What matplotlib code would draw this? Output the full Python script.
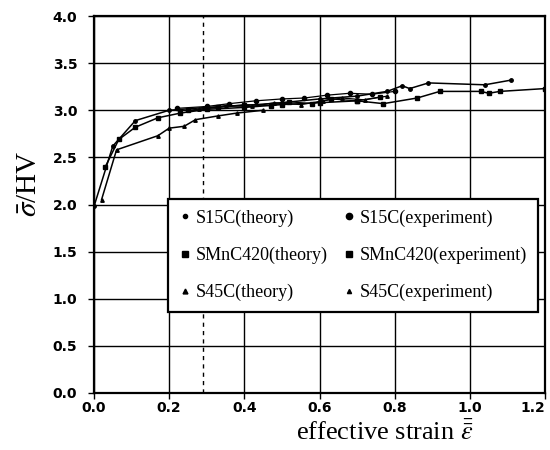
import matplotlib
matplotlib.use('Agg')
import matplotlib.pyplot as plt
from matplotlib.lines import Line2D

plt.rcParams['mathtext.fontset'] = 'stix'

# --- data ---
s15c_th_x = [0.0, 0.05, 0.11, 0.2, 0.3, 0.4, 0.5, 0.6, 0.7, 0.78, 0.82, 0.84, 0.89, 1.04, 1.11]
s15c_th_y = [1.98, 2.62, 2.89, 3.0, 3.03, 3.05, 3.08, 3.12, 3.15, 3.2, 3.26, 3.23, 3.29, 3.27, 3.32]

smn_th_x = [0.03, 0.066, 0.11, 0.17, 0.23, 0.3, 0.4, 0.5, 0.6, 0.7, 0.77, 0.86, 0.92, 1.03, 1.05, 1.08, 1.2]
smn_th_y = [2.4, 2.69, 2.82, 2.92, 2.97, 3.01, 3.03, 3.06, 3.08, 3.1, 3.07, 3.13, 3.2, 3.2, 3.18, 3.2, 3.23]

s45c_th_x = [0.02, 0.06, 0.17, 0.2, 0.24, 0.27, 0.33, 0.38, 0.45]
s45c_th_y = [2.05, 2.58, 2.73, 2.81, 2.83, 2.9, 2.94, 2.97, 3.0]

s15c_ex_x = [0.22, 0.3, 0.36, 0.43, 0.5, 0.56, 0.62, 0.68, 0.74, 0.8]
s15c_ex_y = [3.02, 3.04, 3.07, 3.1, 3.12, 3.13, 3.16, 3.18, 3.17, 3.2]

smn_ex_x = [0.25, 0.33, 0.4, 0.47, 0.52, 0.58, 0.63, 0.7, 0.76]
smn_ex_y = [3.0, 3.03, 3.06, 3.05, 3.09, 3.07, 3.12, 3.1, 3.14]

s45c_ex_x = [0.28, 0.35, 0.42, 0.48, 0.55, 0.61, 0.66, 0.72, 0.78]
s45c_ex_y = [3.01, 3.05, 3.04, 3.08, 3.06, 3.1, 3.13, 3.11, 3.15]

# legend filled column by column: theory first, then experiment
legend_labels = ['S15C(theory)', 'SMnC420(theory)', 'S45C(theory)',
                 'S15C(experiment)', 'SMnC420(experiment)', 'S45C(experiment)']
legend_markers = ['o', 's', '^', 'o', 's', '^']
legend_sizes = [3, 4, 3.5, 4.5, 4, 3]

x_ticks = [0.0, 0.2, 0.4, 0.6, 0.8, 1.0, 1.2]
y_ticks = [0.0, 0.5, 1.0, 1.5, 2.0, 2.5, 3.0, 3.5, 4.0]

fig = plt.figure(figsize=(5.5, 4.5), dpi=100)
ax = fig.add_axes([94 / 550, 57 / 450, 451 / 550, 377 / 450])

ax.set_xlim(0, 1.2)
ax.set_ylim(0, 4.0)
ax.set_xticks(x_ticks)
ax.set_yticks(y_ticks)
ax.set_xticklabels([f'{v:.1f}' for v in x_ticks], fontsize=10, fontweight='semibold')
ax.set_yticklabels([f'{v:.1f}' for v in y_ticks], fontsize=10, fontweight='semibold')
ax.get_xticklabels()[-1].set_ha('right')
ax.grid(True, color='black', linewidth=1.0)
ax.set_axisbelow(True)
ax.tick_params(direction='out', length=4, width=1.0, colors='black')
ax.tick_params(axis='x', pad=2)
ax.tick_params(axis='y', pad=8)
for sp in ax.spines.values():
    sp.set_linewidth(1.6)

# dashed reference strain
ax.axvline(0.29, color='black', linestyle=(0, (3, 3)), linewidth=1.0, zorder=1)

# theory curves
ax.plot(s15c_th_x, s15c_th_y, '-o', color='black', lw=1.1, ms=2.5, zorder=3)
ax.plot(smn_th_x, smn_th_y, '-s', color='black', lw=1.1, ms=2.2, zorder=3)
ax.plot(s45c_th_x, s45c_th_y, '-^', color='black', lw=1.1, ms=2.5, zorder=3)

# experiments
ax.plot(s15c_ex_x, s15c_ex_y, '-o', color='black', lw=0.9, ms=3, zorder=3)
ax.plot(smn_ex_x, smn_ex_y, '-s', color='black', lw=0.9, ms=2.5, zorder=3)
ax.plot(s45c_ex_x, s45c_ex_y, '-^', color='black', lw=0.9, ms=2.5, zorder=3)

handles = [Line2D([], [], linestyle='none', marker=m, color='black', markersize=s)
           for m, s in zip(legend_markers, legend_sizes)]
leg = ax.legend(handles, legend_labels, ncol=2, loc='lower left',
                bbox_to_anchor=(0.165, 0.215),
                prop={'family': 'Liberation Serif', 'size': 13},
                handlelength=0.6, handletextpad=0.3, labelspacing=1.1,
                columnspacing=0.9, borderaxespad=0.0, borderpad=0.6,
                fancybox=False, framealpha=1.0, edgecolor='black')
leg.get_frame().set_linewidth(1.6)
leg.set_zorder(5)

ax.set_ylabel(r'$\bar{\sigma}$/HV', fontsize=21, family='Liberation Serif')
ax.yaxis.set_label_coords(-0.115, 0.555)
fig.text(385 / 550, 1 - 440 / 450, r'effective strain $\bar{\bar{\varepsilon}}$',
         fontsize=19, family='Liberation Serif', ha='center', va='baseline')

fig.savefig('out.png', dpi=100)
